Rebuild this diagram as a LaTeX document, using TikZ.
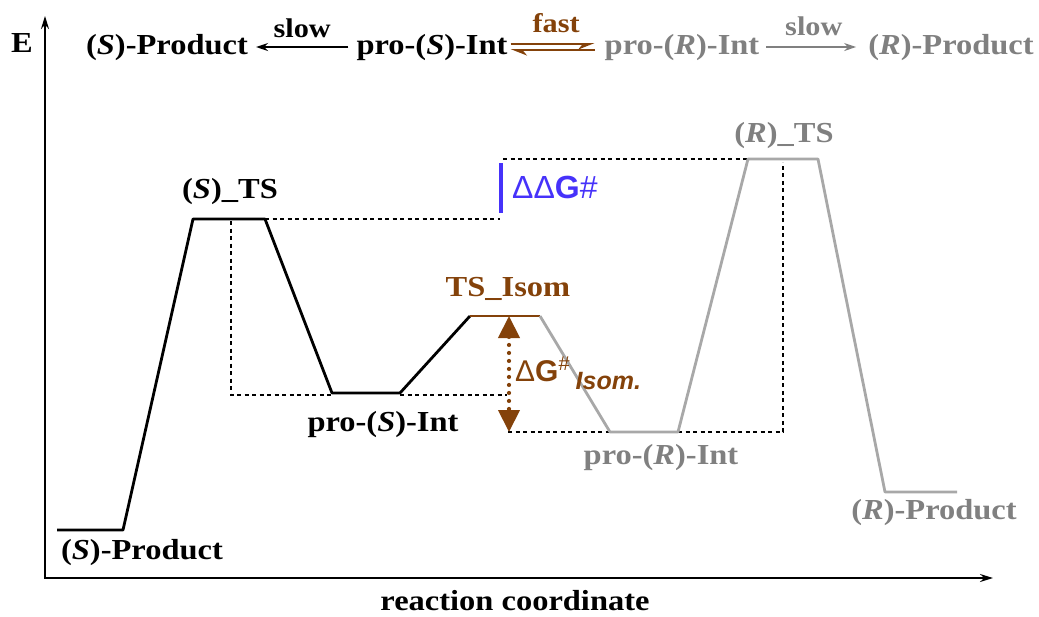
\documentclass[tikz,border=0pt]{standalone}
\usepackage{fontspec}
\setmainfont{Liberation Serif}
\setsansfont{Liberation Sans}
\usetikzlibrary{arrows.meta,calc}
\definecolor{brn}{RGB}{132,66,10}
\definecolor{gry}{RGB}{128,128,128}
\definecolor{lgry}{RGB}{168,168,168}
\definecolor{blu}{RGB}{70,50,250}
\newcommand\stx[1]{\scalebox{1.12}[1]{#1}}
\begin{document}
\begin{tikzpicture}[x=1pt,y=-1pt,
  lbl/.style={font=\bfseries\fontsize{29}{33}\selectfont, inner sep=0pt, anchor=base},
  small/.style={font=\bfseries\fontsize{27}{30}\selectfont, inner sep=0pt, anchor=base},
  prof/.style={line width=2.8pt, line join=round},
  guide/.style={line width=1.2pt, dash pattern=on 4pt off 3.5pt},
  axis/.style={line width=1.8pt, {Stealth[length=13pt,width=8pt]}-{Stealth[length=13pt,width=8pt]}},
  toparrow/.style={line width=1.8pt, -{Stealth[length=12pt,width=8pt]}},
  eqarrow/.style={brn, line width=1.8pt}
]
\useasboundingbox (0,0) rectangle (1039,616);

% axes
\coordinate (ytop) at (45,16);
\coordinate (orig) at (45,578);
\coordinate (xend) at (993,578);
\draw[axis] (ytop) -- (orig) -- (xend);
\node[lbl] (E) at (22,52) {\stx{E}};
\node[lbl] (rc) at (515,610) {\stx{reaction coordinate}};

% top scheme
\node[lbl] (tSprod) at (167,54) {\stx{(\textit{S})-Product}};
\node[lbl] (tSint) at (432,54) {\stx{pro-(\textit{S})-Int}};
\node[lbl, text=gry] (tRint) at (682,54) {\stx{pro-(\textit{R})-Int}};
\node[lbl, text=gry] (tRprod) at (951,54) {\stx{(\textit{R})-Product}};
\draw[toparrow, shorten <=8pt, shorten >=8pt] (tSint.west) -- (tSprod.east)
  node[midway, small, yshift=10pt] (slowL) {\stx{slow}};
\draw[toparrow, gry, shorten <=7pt, shorten >=12pt] (tRint.east) -- (tRprod.west)
  node[midway, small, text=gry, yshift=12pt] (slowR) {\stx{slow}};
\draw[eqarrow, shorten <=3pt, shorten >=10pt, -{Stealth[harpoon,swap,length=14pt,width=11pt]}]
  ([yshift=3pt]tSint.east) -- ([yshift=3pt]tRint.west)
  node[midway, small, text=brn, yshift=12pt] (fast) {\stx{fast}};
\draw[eqarrow, shorten <=10pt, shorten >=3pt, -{Stealth[harpoon,length=14pt,width=11pt]}]
  ([yshift=-3pt]tRint.west) -- ([yshift=-3pt]tSint.east);

% profile points
\coordinate (sp1) at (57,530);  \coordinate (sp2) at (123,530);
\coordinate (sts1) at (193,219); \coordinate (sts2) at (265,219);
\coordinate (si1) at (332,393);  \coordinate (si2) at (400,393);
\coordinate (ti1) at (470,316);  \coordinate (ti2) at (540,316);
\coordinate (ri1) at (610,432);  \coordinate (ri2) at (678,432);
\coordinate (rts1) at (748,159); \coordinate (rts2) at (818,159);
\coordinate (rp1) at (885,492);  \coordinate (rp2) at (957,492);

% guide lines
\coordinate (g1) at (500,219);
\coordinate (g2) at (231,221);
\coordinate (g3) at (231,395);
\coordinate (g4) at (507,395);
\coordinate (g5) at (508,432);
\coordinate (g6) at (783,432);
\coordinate (g7) at (783,162);
\coordinate (g8) at (503,159);
\draw[guide] (sts2) -- (g1);
\draw[guide] (g2) -- (g3) -- (si1 |- g3);
\draw[guide] (si2 |- g3) -- (g4);
\draw[guide] (g5) -- (ri1);
\draw[guide] (ri2) -- (g6) -- (g7);
\draw[guide] (g8) -- (rts1);

% profiles
\draw[prof] (sp1) -- (sp2) -- (sts1) -- (sts2) -- (si1) -- (si2) -- (ti1);
\draw[prof, brn] (ti1) -- (ti2);
\draw[prof, lgry] (ti2) -- (ri1) -- (ri2) -- (rts1) -- (rts2) -- (rp1) -- (rp2);

% labels
\node[lbl] (lSprod) at (142,559) {\stx{(\textit{S})-Product}};
\node[lbl] (lSts) at (230,198) {\stx{(\textit{S})\_TS}};
\node[lbl] (lSint) at (383,431) {\stx{pro-(\textit{S})-Int}};
\node[lbl, text=brn] (lTi) at (508,296) {\stx{TS\_Isom}};
\node[lbl, text=gry] (lRint) at (661,464) {\stx{pro-(\textit{R})-Int}};
\node[lbl, text=gry] (lRts) at (784,142) {\stx{(\textit{R})\_TS}};
\node[lbl, text=gry] (lRprod) at (934,519) {\stx{(\textit{R})-Product}};

% ddG
\coordinate (b1) at (501,163);
\coordinate (b2) at (501,213);
\draw[blu, line width=4.5pt] (b1) -- (b2);
\node[inner sep=0pt, anchor=base west, text=blu, font=\sffamily\fontsize{32}{36}\selectfont] (ddg) at (512,198) {ΔΔ\textbf{G}\#};

% isomerisation barrier
\coordinate (a1) at (509,316);
\coordinate (a2) at (509,432);
\draw[brn, line width=4.2pt, dash pattern=on 0pt off 8pt, line cap=round,
  {Triangle[length=22pt,width=21pt]}-{Triangle[length=22pt,width=21pt]}] (a1) -- (a2);
\node[inner sep=0pt, anchor=base west, text=brn, font=\sffamily\fontsize{30}{34}\selectfont] (dgi) at (515,381)
  {Δ\textbf{G}\raisebox{11pt}{\fontsize{20}{22}\selectfont\#}\hspace{6pt}\raisebox{-8pt}{\fontsize{25}{28}\selectfont\bfseries\itshape Isom.}};
\end{tikzpicture}
\end{document}
